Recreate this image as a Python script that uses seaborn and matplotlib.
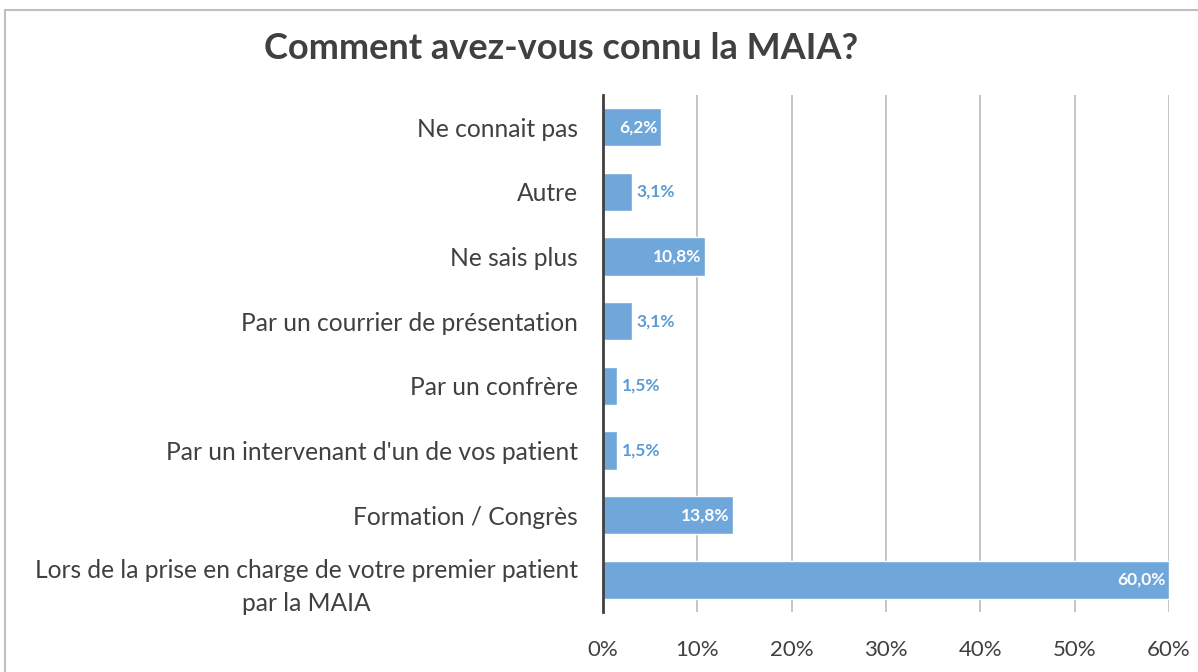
import numpy as np
import pandas as pd
from matplotlib import pyplot as plt
from matplotlib.patches import Rectangle
from matplotlib.ticker import PercentFormatter
import seaborn as sns

categories = ["Ne connait pas", "Autre", "Ne sais plus",
              "Par un courrier de présentation", "Par un confrère",
              "Par un intervenant d'un de vos patient", "Formation / Congrès",
              "Lors de la prise en charge de votre premier patient\npar la MAIA"]
values = [6.2, 3.1, 10.8, 3.1, 1.5, 1.5, 13.8, 60.0]
xticks = [0, 10, 20, 30, 40, 50, 60]

sns.set_style("white")
plt.rcParams['font.family'] = ['Lato', 'DejaVu Sans']

df = pd.DataFrame({"cat": categories, "val": values})

fig = plt.figure(figsize=(11.98, 6.72), dpi=100)
ax = fig.add_axes([0.5033, 0.089, 0.4725, 0.770])
bar_col = "#6FA7DA"
sns.barplot(data=df, y="cat", x="val", orient="h", color=bar_col, saturation=1,
            width=0.59, ax=ax)

ax.set_xlim(0, 60)
ax.set_xticks(xticks)
ax.xaxis.set_major_formatter(PercentFormatter(decimals=0))
ax.grid(axis="x", color="#BFBFBF", linewidth=1.3)
ax.set_axisbelow(True)
for s in ["top", "right", "bottom"]:
    ax.spines[s].set_visible(False)
ax.spines["left"].set_color("#404040")
ax.spines["left"].set_linewidth(2)
ax.set_xlabel("")
ax.set_ylabel("")
ax.tick_params(axis="y", length=0, labelsize=17.7, colors="#404040", pad=18)
ax.tick_params(axis="x", length=0, labelsize=16, colors="#404040", pad=20)
for lab in ax.get_yticklabels():
    lab.set_multialignment("center")
    lab.set_linespacing(1.55)
ax.set_ylim(len(categories) - 0.5, -0.5)

# data labels, french decimal comma
for i, v in enumerate(values):
    txt = f"{v:.1f}%".replace(".", ",")
    if v > 5:
        ax.text(v - 0.4, i, txt, ha="right", va="center", color="white",
                fontsize=12.5, fontweight="bold")
    else:
        ax.text(v + 0.5, i, txt, ha="left", va="center", color="#5B9BD5",
                fontsize=12.5, fontweight="bold")

fig.text(0.468, 0.928, "Comment avez-vous connu la MAIA?", ha="center", va="center",
         fontsize=26, fontweight="bold", color="#404040")

fig.patches.append(Rectangle((0.004, -0.05), 1.1, 1.035, transform=fig.transFigure,
                             fill=False, edgecolor="#BFBFBF", linewidth=1.5))

plt.savefig("out.png", dpi=100)
